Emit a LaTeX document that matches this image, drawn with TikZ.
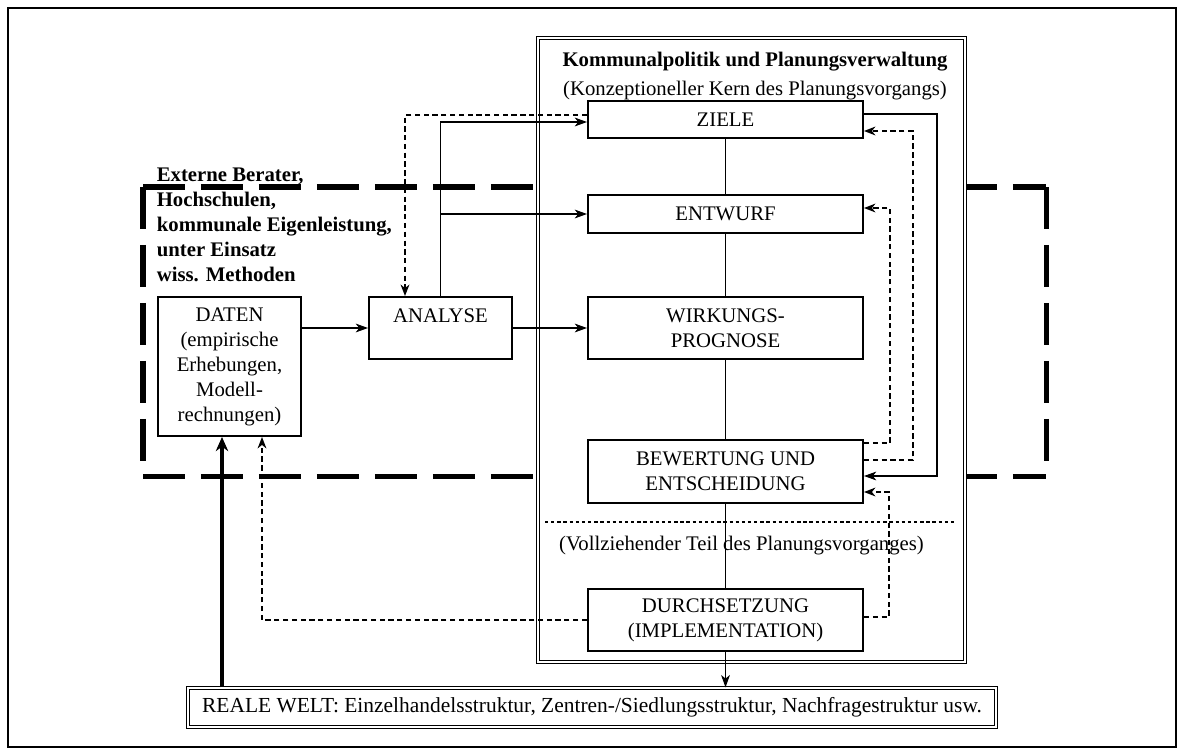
\documentclass[tikz,border=0pt]{standalone}
\usepackage{fontspec}
\setmainfont{Liberation Serif}
\usetikzlibrary{arrows.meta}
\newcommand{\labelsize}{\fontsize{11.8}{14.2}\selectfont}

\begin{document}
\begin{tikzpicture}[
  font=\labelsize,
  stage/.style={draw, line width=1.13pt, fill=white, inner sep=0pt,
                minimum width=5.5cm, align=center},
  side/.style={draw, line width=1.13pt, fill=white, inner sep=0pt,
               minimum width=2.86cm, align=center},
  link/.style={line width=0.6pt},
  flow/.style={line width=0.6pt, -{Stealth[length=7pt,width=5pt,inset=2pt]}},
  back/.style={line width=0.85pt, dash pattern=on 3pt off 2pt,
               -{Stealth[length=6.5pt,width=5pt,inset=2pt]}},
  zone/.style={line width=2.85pt, dash pattern=on 24pt off 9pt},
  twin/.style={draw, double, line width=0.75pt, double distance=0.9pt},
]
  \useasboundingbox (0,0) rectangle (23.68,-15.10);
  \draw[line width=1.36pt] (0.16,-0.16) rectangle (23.52,-14.94);

  % Zone of the external advisers (runs behind the core box)
  \draw[zone] (2.86,-3.74) -- (20.92,-3.74);
  \draw[zone] (2.86,-3.74) -- (2.86,-9.52);
  \draw[zone] (2.86,-9.52) -- (20.92,-9.52);
  \draw[zone] (20.92,-3.74) -- (20.92,-9.52);

  % Core box
  \draw[twin, fill=white] (10.76,-0.76) rectangle (19.30,-13.24);
  \node[anchor=base, font=\labelsize\bfseries] (coretitle) at (15.10,-1.33)
    {Kommunalpolitik und Planungsverwaltung};
  \node[anchor=base] (coresub) at (15.10,-1.90)
    {(Konzeptioneller Kern des Planungsvorgangs)};
  \node[anchor=base west] (partlabel) at (11.06,-11.0)
    {(Vollziehender Teil des Planungsvorganges)};
  \draw[line width=1.5pt, dash pattern=on 1.9pt off 1.6pt]
    (10.9,-10.44) -- (19.14,-10.44);

  % Stages
  \node[stage, minimum height=0.74cm] (ziele) at (14.51,-2.39) {ZIELE};
  \node[stage, minimum height=0.76cm] (entwurf) at (14.51,-4.28) {ENTWURF};
  \node[stage, minimum height=1.24cm] (wirkung) at (14.51,-6.56) {WIRKUNGS-\\PROGNOSE};
  \node[stage, minimum height=1.26cm] (bewertung) at (14.51,-9.43) {BEWERTUNG UND\\ENTSCHEIDUNG};
  \node[stage, minimum height=1.24cm] (durch) at (14.51,-12.40) {DURCHSETZUNG\\(IMPLEMENTATION)};

  % Left side
  \node[anchor=north west, align=left, inner sep=0pt, font=\labelsize\bfseries] (advisers)
    at (3.13,-3.36) {Externe Berater,\\Hochschulen,\\kommunale Eigenleistung,\\unter Einsatz\\wiss. Methoden};
  \node[side, minimum height=2.78cm] (daten) at (4.59,-7.33)
    {DATEN\\(empirische\\Erhebungen,\\Modell-\\rechnungen)};
  \node[side, minimum height=1.24cm] (analyse) at (8.81,-6.56) {ANALYSE\\\mbox{}};

  % Real world
  \node[twin, fill=white, inner sep=0pt, minimum width=16.16cm, minimum height=0.78cm,
        font=\fontsize{12.2}{14.6}\selectfont] (welt)
    at (11.84,-14.15) {REALE WELT: Einzelhandelsstruktur, Zentren-/Siedlungsstruktur, Nachfragestruktur usw.};

  % Core chain
  \draw[link] (ziele) -- (entwurf);
  \draw[link] (entwurf) -- (wirkung);
  \draw[link] (wirkung) -- (bewertung);
  \draw[link] (bewertung) -- (durch);
  \draw[flow] (durch) -- (durch.south |- welt.north);

  % Analysis paths
  \draw[flow] (daten.east |- analyse.west) -- (analyse.west);
  \draw[flow] (analyse) -- (wirkung);
  \draw[flow] (analyse.north) |- ([yshift=-0.05cm]ziele.west);
  \draw[flow] (analyse.north |- entwurf.west) -- (entwurf.west);
  \draw[back] ([yshift=0.09cm]ziele.west) -| ([xshift=-0.71cm]analyse.north);

  % Feedback on the right
  \draw[flow] ([yshift=0.11cm]ziele.east) -| ([xshift=1.46cm, yshift=-0.09cm]bewertung.east)
    -- ([yshift=-0.09cm]bewertung.east);
  \draw[back] ([yshift=0.57cm]bewertung.east) -| ([xshift=0.52cm, yshift=0.12cm]entwurf.east)
    -- ([yshift=0.12cm]entwurf.east);
  \draw[back] ([yshift=0.23cm]bewertung.east) -| ([xshift=0.98cm, yshift=-0.23cm]ziele.east)
    -- ([yshift=-0.23cm]ziele.east);
  \draw[back] ([yshift=0.06cm]durch.east) -| ([xshift=0.5cm, yshift=-0.41cm]bewertung.east)
    -- ([yshift=-0.41cm]bewertung.east);

  % Returns from below
  \draw[line width=1.9pt, -{Stealth[length=8pt,width=7pt,inset=2.5pt]}]
    ([xshift=-0.15cm]daten.south |- welt.north) -- ([xshift=-0.15cm]daten.south);
  \draw[back] (durch.west) -| ([xshift=0.65cm]daten.south);
\end{tikzpicture}
\end{document}
